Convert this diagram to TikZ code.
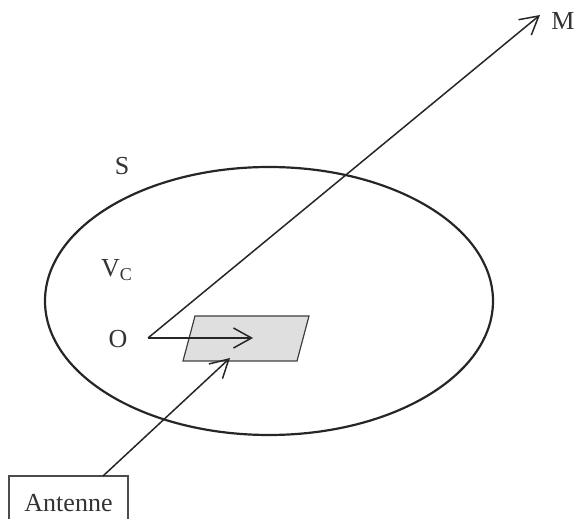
\documentclass[tikz,border=0pt]{standalone}
\usepackage{fontspec}
\setmainfont{Liberation Serif}
\usetikzlibrary{arrows.meta, positioning}

\begin{document}
\begin{tikzpicture}[
  x=0.5pt, y=-0.5pt,
  every node/.style = {font=\fontsize{13}{15}\selectfont, text=black!80},
  line/.style  = {draw=black!85, line width=0.75pt},
  arr/.style   = {line, -{Straight Barb[length=9pt, width=10pt, line width=0.75pt]}},
  plate/.style = {draw=black!75, fill=gray!25, line width=0.6pt},
  abox/.style  = {draw=black!70, line width=0.6pt, minimum width=59.5pt,
                  minimum height=27pt, inner sep=0pt},
]
\useasboundingbox (0,0) rectangle (574,519);
\clip (0,0) rectangle (574,519);

%% -- surface S and volume ----------------------------------------------
\draw[line, line width=1.1pt] (269,301) ellipse [x radius=224, y radius=134];
\node (S)  at (122,166) {S};
\node (Vc) at (117,270) {V\textsubscript{\fontsize{9}{10}\selectfont C}};

%% -- antenna plate (parallelogram) ---------------------------------------
\coordinate (p1) at (195,316);
\coordinate (p2) at (309,316);
\coordinate (p3) at (297,361);
\coordinate (p4) at (183,361);
\filldraw[plate] (p1) -- (p2) -- (p3) -- (p4) -- cycle;

%% -- origin, observation point, vectors ---------------------------------
\coordinate (o) at (148,338);
\node (O) at (118,339) {O};
\coordinate (mtip) at (540,15);
\node (M) at (563,21) {M};
\coordinate (xtip) at (253,338);

\draw[arr] (o) -- (mtip);
\draw[arr] (o) -- (xtip);

%% -- feeding antenna -----------------------------------------------------
\node[abox] (ant) at (68.5,503) {Antenne};
\coordinate (feed) at (103,476);
\coordinate (ptip) at (230,358);
\draw[arr] (feed) -- (ptip);

\end{tikzpicture}
\end{document}
